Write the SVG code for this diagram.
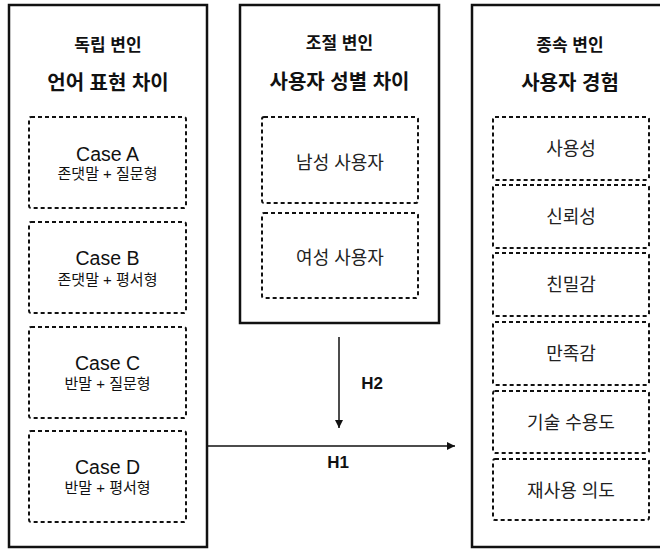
<svg xmlns="http://www.w3.org/2000/svg" width="660" height="549" viewBox="0 0 660 549">
<style>
text{font-family:"Liberation Sans","Noto Sans CJK KR",sans-serif;fill:#111;text-anchor:middle}
.outer{fill:#fff;stroke:#111;stroke-width:2.5}
.dash{fill:none;stroke:#111;stroke-width:2;stroke-dasharray:4 3}
.h1{font-size:17px;font-weight:bold}
.h2{font-size:20px;font-weight:bold}
.case{font-size:19.5px}
.sub{font-size:15px}
.item{font-size:18px;fill:#222}
.lab{font-size:17px;font-weight:bold}
.conn{stroke:#111;stroke-width:1.5;fill:none}
</style>
<defs>
<marker id="arr" viewBox="0 0 10 10" refX="10" refY="5" markerWidth="8" markerHeight="8" markerUnits="userSpaceOnUse" orient="auto">
<path d="M0,0 L10,5 L0,10 z" fill="#111"/>
</marker>
</defs>
<rect width="660" height="549" fill="#fff"/>

<g id="independent">
<rect class="outer" x="9" y="5" width="198" height="542"/>
<text class="h1" x="108" y="51">독립 변인</text>
<text class="h2" x="108" y="90">언어 표현 차이</text>
</g>
<g id="caseA">
<rect class="dash" x="29" y="117" width="157" height="91" rx="2"/>
<text class="case" x="107.5" y="161">Case A</text>
<text class="sub" x="107.5" y="179">존댓말 + 질문형</text>
</g>
<g id="caseB">
<rect class="dash" x="29" y="222" width="157" height="91" rx="2"/>
<text class="case" x="107.5" y="265">Case B</text>
<text class="sub" x="107.5" y="285">존댓말 + 평서형</text>
</g>
<g id="caseC">
<rect class="dash" x="29" y="327" width="157" height="91" rx="2"/>
<text class="case" x="107.5" y="370">Case C</text>
<text class="sub" x="107.5" y="389">반말 + 질문형</text>
</g>
<g id="caseD">
<rect class="dash" x="29" y="431" width="157" height="91" rx="2"/>
<text class="case" x="107.5" y="474">Case D</text>
<text class="sub" x="107.5" y="493">반말 + 평서형</text>
</g>

<g id="moderator">
<rect class="outer" x="240" y="5" width="199" height="318"/>
<text class="h1" x="339.5" y="49">조절 변인</text>
<text class="h2" x="339.5" y="89">사용자 성별 차이</text>
</g>
<g id="male">
<rect class="dash" x="262" y="117" width="156" height="86" rx="2"/>
<text class="item" x="340" y="169">남성 사용자</text>
</g>
<g id="female">
<rect class="dash" x="262" y="213" width="156" height="85" rx="2"/>
<text class="item" x="340" y="264">여성 사용자</text>
</g>

<g id="dependent">
<rect class="outer" x="472" y="5" width="200" height="542"/>
<text class="h1" x="570" y="51">종속 변인</text>
<text class="h2" x="570" y="90">사용자 경험</text>
</g>
<g id="usability">
<rect class="dash" x="493" y="117" width="156" height="63" rx="2"/>
<text class="item" x="571" y="155">사용성</text>
</g>
<g id="trust">
<rect class="dash" x="493" y="185" width="156" height="63" rx="2"/>
<text class="item" x="571" y="223">신뢰성</text>
</g>
<g id="intimacy">
<rect class="dash" x="493" y="253" width="156" height="63" rx="2"/>
<text class="item" x="571" y="291">친밀감</text>
</g>
<g id="satisfaction">
<rect class="dash" x="493" y="322" width="156" height="63" rx="2"/>
<text class="item" x="571" y="360">만족감</text>
</g>
<g id="acceptance">
<rect class="dash" x="493" y="391" width="156" height="62" rx="2"/>
<text class="item" x="571" y="429">기술 수용도</text>
</g>
<g id="reuse">
<rect class="dash" x="493" y="459" width="156" height="61" rx="2"/>
<text class="item" x="571" y="497">재사용 의도</text>
</g>

<g id="connectors">
<line class="conn" x1="339" y1="337" x2="339" y2="428" marker-end="url(#arr)"/>
<text class="lab" x="372" y="389">H2</text>
<line class="conn" x1="208" y1="446" x2="455" y2="446" marker-end="url(#arr)"/>
<text class="lab" x="338" y="468">H1</text>
</g>
</svg>
